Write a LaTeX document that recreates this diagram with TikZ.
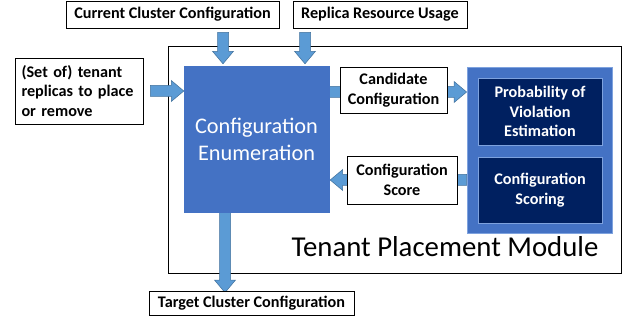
\documentclass[tikz,border=0pt]{standalone}
\usepackage{fontspec}
\setmainfont{Carlito}
\usetikzlibrary{calc}
\definecolor{enumblue}{HTML}{4472C4}
\definecolor{arrowblue}{HTML}{5B9BD5}
\definecolor{arrowedge}{HTML}{41719C}
\definecolor{navy}{HTML}{002060}
\definecolor{rimblue}{HTML}{7EA2DE}
\pgfdeclarelayer{back}
\pgfdeclarelayer{mid}
\pgfsetlayers{back,mid,main}

% block arrow from #1 to #2 (shaft half width 5.5pt, head half width 10.5pt)
\newcommand\flowarrow[2]{%
  \path (#1) coordinate (fa-s) (#2) coordinate (fa-e);
  \path ($(fa-e)!12.5pt!(fa-s)$) coordinate (fa-h);
  \draw[blockarrow] ($(fa-s)!5.5pt!90:(fa-e)$) -- ($(fa-h)!5.5pt!90:(fa-e)$)
    -- ($(fa-h)!10.5pt!90:(fa-e)$) -- (fa-e) -- ($(fa-h)!10.5pt!-90:(fa-e)$)
    -- ($(fa-h)!5.5pt!-90:(fa-e)$) -- ($(fa-s)!5.5pt!-90:(fa-e)$) -- cycle;}

\tikzset{
  label/.style={draw=black, line width=0.8pt, fill=white, inner sep=0pt,
    font=\fontsize{16.2}{19.5}\selectfont\bfseries, align=center},
  blockarrow/.style={fill=arrowblue, draw=arrowedge, line width=0.5pt},
  inner/.style={fill=navy, draw=rimblue, line width=0.8pt, text=white,
    inner sep=0pt, font=\fontsize{16.2}{19.5}\selectfont\bfseries, align=center},
}

\begin{document}
\begin{tikzpicture}[x=1pt, y=-1pt]
\useasboundingbox (0,0) rectangle (626,320);

% module frame
\begin{pgfonlayer}{back}
\node[draw=black, line width=0.8pt, fill=white, minimum width=453pt,
  minimum height=227pt, inner sep=0pt] (module) at (394.5,159.5) {};
\end{pgfonlayer}
\node[anchor=base, font=\fontsize{28.8}{32}\selectfont] (modname) at (445,257)
  {Tenant Placement Module};

% inputs and output
\node[label, minimum width=213pt, minimum height=27pt] (cur) at (172.5,14.5)
  {Current Cluster Configuration};
\node[label, minimum width=174pt, minimum height=27pt] (rep) at (380,14.5)
  {Replica Resource Usage};
\node[label, align=left, text width=115pt, inner xsep=6.5pt,
  minimum height=66pt] (input) at (79,91)
  {(Set of) tenant\\replicas to place\\or remove};
\node[label, minimum width=205pt, minimum height=24pt] (target) at (251.5,303)
  {Target Cluster Configuration};

% enumeration block
\node[fill=enumblue, draw=enumblue, minimum width=145pt, minimum height=146pt,
  inner sep=0pt, text=white, align=center,
  font=\fontsize{22.3}{27}\selectfont] (enum) at (256.5,139)
  {Configuration\\Enumeration};

% estimation and scoring block
\node[fill=enumblue, draw=rimblue, line width=0.8pt, minimum width=145pt,
  minimum height=166pt, inner sep=0pt] (right) at (539.5,150) {};
\node[inner, minimum width=124pt, minimum height=67pt] (prob) at (540,111.5)
  {Probability of\\Violation\\Estimation};
\node[inner, minimum width=124pt, minimum height=66pt] (scor) at (540,190)
  {Configuration\\Scoring};

% exchanged data
\node[label, minimum width=107pt, minimum height=46pt] (cand) at (393.5,90)
  {Candidate\\Configuration};
\node[label, minimum width=110pt, minimum height=48pt] (score) at (402,180)
  {Configuration\\Score};

% arrows
\begin{pgfonlayer}{mid}
\coordinate (a1s) at ([yshift=-4pt]cur.south -| 223,0);
\coordinate (a1e) at ([yshift=2pt]enum.north -| 223,0);
\flowarrow{a1s}{a1e}
\coordinate (a2s) at ([yshift=-4pt]rep.south -| 305,0);
\coordinate (a2e) at ([yshift=2pt]enum.north -| 305,0);
\flowarrow{a2s}{a2e}
\coordinate (a3s) at ([xshift=7pt]input.east);
\coordinate (a3e) at (enum.west |- input.east);
\flowarrow{a3s}{a3e}
\coordinate (a4s) at (enum.east |- 0,92);
\coordinate (a4e) at (right.west |- 0,92);
\flowarrow{a4s}{a4e}
\coordinate (a5s) at (right.west |- score.east);
\coordinate (a5e) at ([xshift=1pt]enum.east |- score.east);
\flowarrow{a5s}{a5e}
\coordinate (a6s) at (enum.south -| 225,0);
\coordinate (a6e) at ([yshift=-2pt]target.north -| 225,0);
\flowarrow{a6s}{a6e}
\end{pgfonlayer}
\end{tikzpicture}
\end{document}
